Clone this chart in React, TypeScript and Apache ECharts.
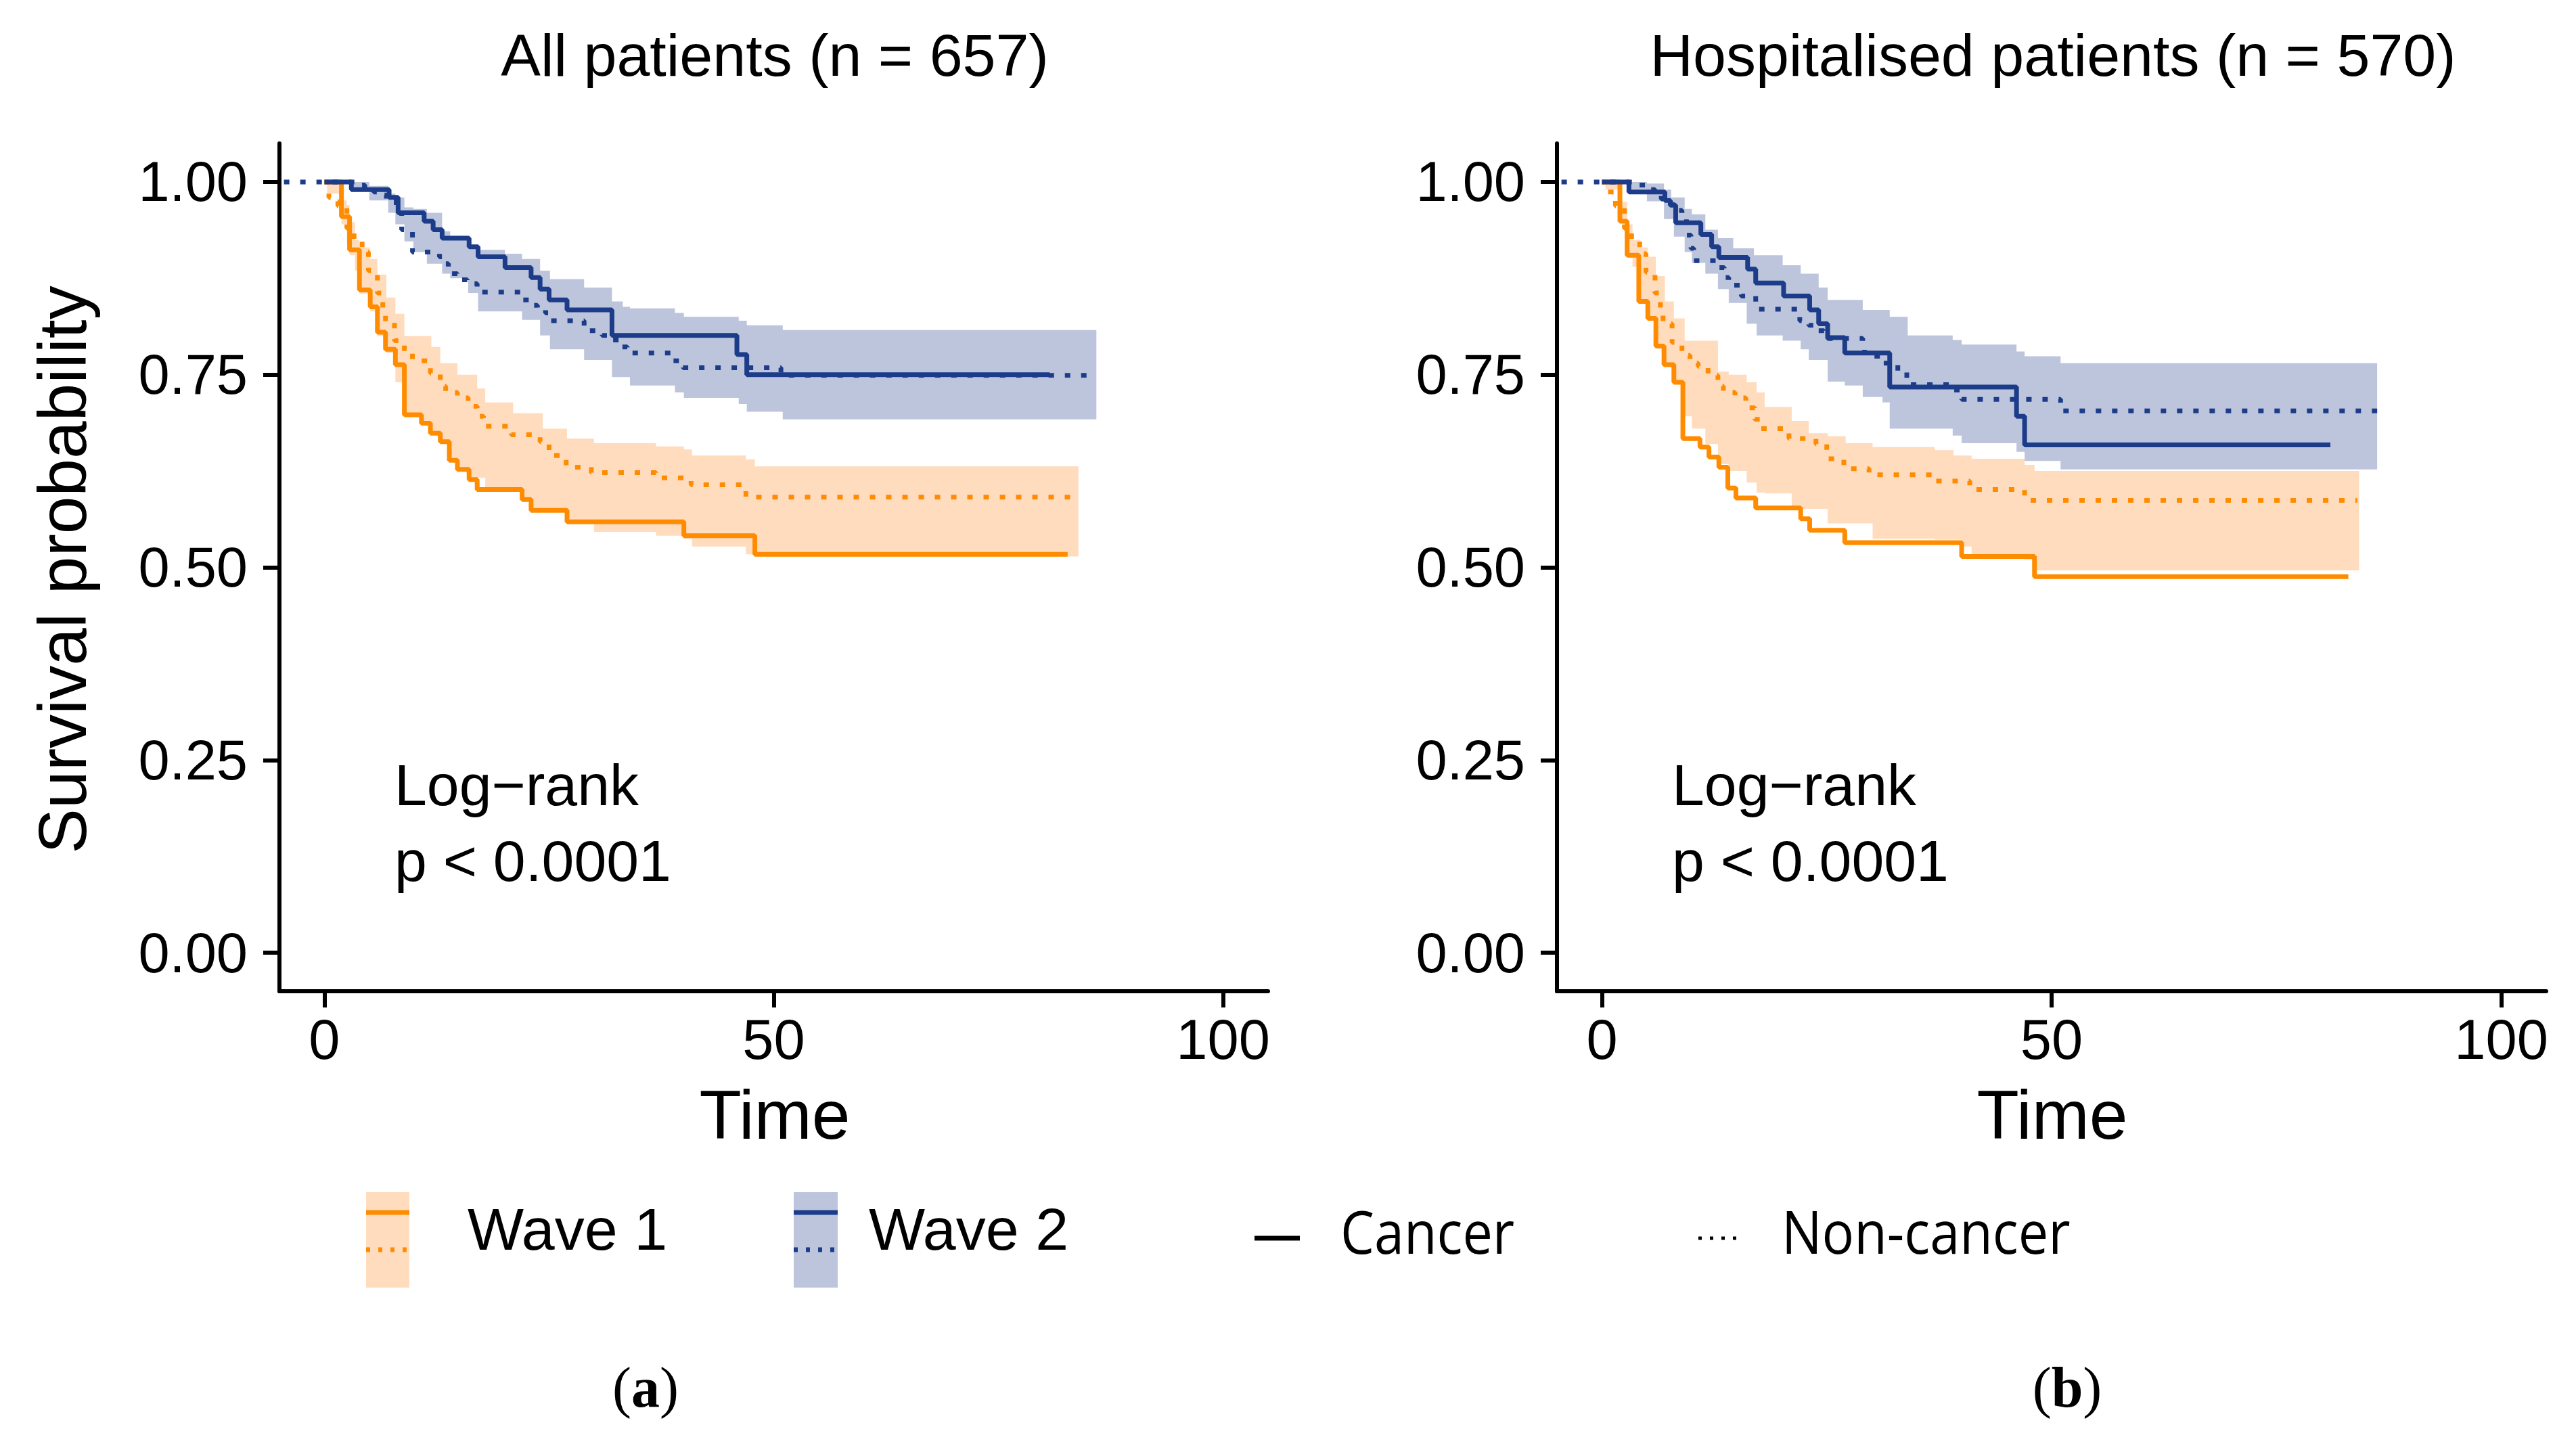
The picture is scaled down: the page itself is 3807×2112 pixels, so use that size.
import React, { useEffect, useRef } from "react";
import * as echarts from "echarts";

// ---------- data (time, survival) ----------
const xTicks = [0, 50, 100];
const yTicks = [0, 0.25, 0.5, 0.75, 1];
const panelTitles = ["All patients (n = 657)", "Hospitalised patients (n = 570)"];

// Panel (a): all patients
const aWave1Cancer: number[][] = [[0,1],[1.9,0.955],[2.8,0.912],[3.9,0.860],[5.1,0.838],[5.9,0.805],[6.8,0.783],[7.9,0.763],[8.9,0.698],[10.8,0.687],[11.8,0.674],[12.9,0.663],[13.9,0.639],[14.8,0.627],[16.1,0.614],[17.0,0.601],[22.0,0.588],[23.0,0.574],[27.0,0.559],[40.0,0.541],[47.9,0.517]];
const aWave1NonCancer: number[][] = [[0,1],[0.5,0.98],[1.0,0.975],[1.5,0.969],[2.5,0.94],[3.3,0.925],[4.2,0.909],[4.9,0.885],[5.9,0.856],[6.5,0.836],[6.8,0.818],[7.8,0.794],[8.9,0.780],[9.8,0.768],[11.8,0.752],[12.9,0.735],[13.5,0.727],[14.8,0.720],[16.0,0.709],[17.0,0.696],[17.7,0.683],[20.8,0.672],[24.0,0.663],[25.0,0.645],[26.9,0.630],[29.7,0.623],[36.9,0.616],[40.8,0.607],[46.9,0.591]];
const aWave2Cancer: number[][] = [[0,1],[3.0,0.990],[7.2,0.980],[8.2,0.960],[11.1,0.949],[12.1,0.938],[13.1,0.927],[16.1,0.916],[17.1,0.903],[20.1,0.889],[23.0,0.876],[24.0,0.861],[25.0,0.847],[27.0,0.834],[32.0,0.801],[45.9,0.776],[47.0,0.750]];
const aWave2NonCancer: number[][] = [[-4.5,1],[3.8,0.996],[4.5,0.992],[5.5,0.987],[6.2,0.983],[6.9,0.978],[7.5,0.974],[8.0,0.960],[8.6,0.938],[9.8,0.909],[12.8,0.903],[13.2,0.894],[13.8,0.889],[14.2,0.881],[14.8,0.877],[15.3,0.873],[15.9,0.868],[17.0,0.857],[21.8,0.847],[22.8,0.840],[23.7,0.835],[24.6,0.830],[25.0,0.820],[28.9,0.807],[30.9,0.801],[32.0,0.795],[32.9,0.786],[33.7,0.778],[38.8,0.768],[39.9,0.759],[50.8,0.749]];
const aEnds = [82.7, 83.8, 80.7, 85.9];
// confidence bands: [time, upper, lower]
const aWave1Band: number[][] = [[0.3,1.0,0.985],[1.9,0.976,0.945],[2.5,0.970,0.92],[2.8,0.948,0.905],[3.4,0.925,0.885],[3.9,0.915,0.855],[5.1,0.900,0.832],[5.9,0.880,0.800],[6.9,0.850,0.778],[7.9,0.829,0.740],[8.9,0.800,0.695],[10.8,0.800,0.685],[11.9,0.786,0.672],[12.9,0.765,0.660],[13.9,0.765,0.637],[14.8,0.750,0.625],[16.1,0.750,0.616],[17.0,0.732,0.616],[17.9,0.714,0.599],[21.0,0.700,0.599],[22.0,0.700,0.586],[23.0,0.700,0.572],[24.3,0.680,0.572],[27.0,0.667,0.557],[30.0,0.661,0.546],[36.9,0.657,0.541],[40.0,0.653,0.537],[40.9,0.645,0.527],[46.9,0.640,0.517],[47.9,0.631,0.514]];
const aWave2Band: number[][] = [[3.0,1.0,0.99],[5.0,0.995,0.976],[7.1,0.985,0.96],[7.9,0.98,0.945],[8.9,0.967,0.923],[9.9,0.965,0.909],[11.4,0.96,0.894],[13.1,0.936,0.881],[14.0,0.93,0.875],[16.0,0.918,0.856],[17.1,0.912,0.832],[20.1,0.907,0.832],[22.0,0.900,0.821],[24.0,0.885,0.801],[25.1,0.874,0.783],[28.9,0.863,0.769],[32.0,0.845,0.747],[33.2,0.838,0.747],[34.0,0.836,0.736],[39.0,0.830,0.727],[40.0,0.825,0.720],[46.1,0.820,0.712],[47.0,0.814,0.702],[51.0,0.808,0.692]];
const aBandEnds = [83.9, 85.9];

// Panel (b): hospitalised patients
const bWave1Cancer: number[][] = [[0,1],[2.0,0.949],[2.8,0.905],[4.1,0.845],[5.1,0.823],[6.0,0.787],[6.9,0.763],[8.0,0.740],[9.0,0.667],[10.9,0.656],[11.9,0.643],[13.0,0.630],[14.0,0.603],[14.9,0.590],[17.1,0.577],[22.1,0.563],[23.1,0.548],[27.0,0.532],[40.0,0.514],[48.1,0.488]];
const bWave1NonCancer: number[][] = [[0,1],[0.5,0.987],[1.5,0.969],[2.5,0.94],[3.3,0.925],[4.2,0.907],[4.9,0.883],[5.9,0.856],[6.5,0.836],[6.8,0.816],[7.8,0.792],[8.9,0.775],[9.8,0.765],[10.7,0.761],[11.8,0.749],[12.9,0.735],[13.5,0.727],[14.8,0.720],[16.0,0.707],[17.0,0.692],[17.7,0.680],[20.8,0.667],[23.8,0.660],[25.0,0.641],[26.9,0.628],[29.7,0.620],[36.9,0.612],[40.9,0.601],[47.0,0.587]];
const bWave2Cancer: number[][] = [[0,1],[3.0,0.987],[7.0,0.976],[7.6,0.970],[8.2,0.947],[11.0,0.932],[12.2,0.916],[13.0,0.902],[16.2,0.887],[17.1,0.869],[20.2,0.852],[23.1,0.834],[24.1,0.816],[25.1,0.798],[27.0,0.778],[32.0,0.734],[46.1,0.696],[47.0,0.659]];
const bWave2NonCancer: number[][] = [[-4.5,1],[3.8,0.996],[4.9,0.990],[5.9,0.983],[6.6,0.978],[7.2,0.971],[8.0,0.963],[8.9,0.956],[9.4,0.931],[9.9,0.914],[10.2,0.898],[12.9,0.889],[13.6,0.876],[14.1,0.866],[15.5,0.852],[17.1,0.835],[22.0,0.820],[23.0,0.814],[23.8,0.807],[24.7,0.801],[25.1,0.797],[29.0,0.787],[29.2,0.774],[31.0,0.765],[32.9,0.754],[33.9,0.737],[39.0,0.730],[40.0,0.718],[51.0,0.703]];
const bEnds = [83.0, 84.0, 81.0, 86.2];
const bWave1Band: number[][] = [[0.4,1.0,0.99],[2.0,0.974,0.949],[2.8,0.945,0.905],[3.4,0.925,0.89],[4.3,0.915,0.845],[5.1,0.903,0.823],[6.0,0.878,0.787],[7.0,0.845,0.763],[8.0,0.823,0.740],[9.2,0.794,0.696],[10.0,0.794,0.680],[11.5,0.794,0.66],[12.9,0.754,0.634],[14.1,0.750,0.625],[16.1,0.740,0.610],[17.2,0.727,0.597],[18.1,0.708,0.596],[21.1,0.690,0.576],[23.0,0.674,0.576],[25.1,0.670,0.557],[27.1,0.661,0.557],[30.1,0.656,0.537],[37.0,0.652,0.536],[39.1,0.645,0.536],[40.0,0.645,0.527],[41.1,0.641,0.517],[47.0,0.633,0.510],[48.1,0.625,0.496]];
const bWave2Band: number[][] = [[3.0,1.0,0.99],[5.0,0.998,0.975],[6.9,0.99,0.952],[7.7,0.98,0.952],[8.0,0.98,0.929],[9.2,0.965,0.909],[10.0,0.958,0.895],[11.5,0.938,0.881],[12.9,0.927,0.861],[14.1,0.927,0.843],[14.6,0.914,0.843],[16.1,0.914,0.816],[16.9,0.905,0.816],[17.2,0.905,0.801],[20.1,0.892,0.794],[22.1,0.881,0.783],[23.0,0.881,0.769],[24.1,0.863,0.769],[25.1,0.847,0.741],[27.0,0.847,0.736],[29.0,0.834,0.721],[31.2,0.834,0.714],[32.0,0.825,0.680],[34.0,0.801,0.680],[39.0,0.795,0.671],[40.0,0.789,0.661],[46.1,0.780,0.650],[47.0,0.774,0.638],[51.0,0.765,0.627]];
const bBandEnds = [84.2, 86.2];

const legendWaves = ["Wave 1", "Wave 2"];
const legendTypes = ["Cancer", "Non-cancer"];

// ---------- styling ----------
const ORANGE = "#FF8C00";
const ORANGE_FILL = "#FFDCBE";
const BLUE = "#1C3C8A";
const BLUE_FILL = "#BDC5DC";
const SANS = "'Liberation Sans', Arial, Helvetica, sans-serif";
const LEG = "'Open Sans', 'Noto Sans', sans-serif";
const SERIF = "'Liberation Serif', 'Times New Roman', serif";
const DOT: number[] = [8, 16];

const GRIDS = [
  { left: 413, top: 212, width: 1461, height: 1253 },
  { left: 2301, top: 212, width: 1462, height: 1253 },
];

function bandSeries(rows: number[][], end: number, fill: string, idx: number) {
  return {
    type: "custom",
    xAxisIndex: idx,
    yAxisIndex: idx,
    silent: true,
    z: 1,
    data: rows,
    encode: { x: 0, y: [1, 2] },
    renderItem: (params: any, api: any) => {
      if (params.dataIndex !== 0) return { type: "group", children: [] };
      const up: number[][] = [];
      const lo: number[][] = [];
      for (let i = 0; i < rows.length; i++) {
        const t0 = rows[i][0];
        const t1 = i + 1 < rows.length ? rows[i + 1][0] : end;
        up.push(api.coord([t0, rows[i][1]]), api.coord([t1, rows[i][1]]));
        lo.push(api.coord([t0, rows[i][2]]), api.coord([t1, rows[i][2]]));
      }
      return {
        type: "polygon",
        shape: { points: up.concat(lo.reverse()) },
        style: { fill, stroke: "none" },
      };
    },
  };
}

function lineSeries(pts: number[][], end: number, color: string, dotted: boolean, idx: number) {
  const last = pts[pts.length - 1][1];
  return {
    type: "line",
    xAxisIndex: idx,
    yAxisIndex: idx,
    step: "end",
    symbol: "none",
    silent: true,
    z: 3,
    data: [...pts, [end, last]],
    lineStyle: { color, width: 7, type: dotted ? DOT : "solid", cap: "butt" },
  };
}

function txt(text: string, x: number, y: number, fontSize: number, opts: any = {}) {
  return {
    type: "text",
    x,
    y,
    rotation: opts.rotation || 0,
    scaleX: opts.scaleX || 1,
    silent: true,
    style: {
      text,
      fontSize,
      fontFamily: opts.font || SANS,
      fontWeight: "normal",
      fill: "#000",
      textAlign: opts.align || "left",
      align: opts.align || "left",
      textVerticalAlign: "middle",
      verticalAlign: "middle",
      rich: opts.rich,
    },
  };
}

const panelRich = {
  r: { fontFamily: SERIF, fontSize: 84, fontWeight: "normal", fill: "#000" },
  b: { fontFamily: SERIF, fontSize: 84, fontWeight: "bold", fill: "#000" },
};

export default function App() {
  const ref = useRef<HTMLDivElement>(null);

  useEffect(() => {
    document.body.style.margin = "0";
    if (!ref.current) return;
    const chart = echarts.init(ref.current, undefined, { renderer: "svg" });

    const xAxes = GRIDS.map((_, i) => ({
      type: "value",
      gridIndex: i,
      min: -5,
      max: 105,
      splitLine: { show: false },
      axisLine: { show: true, onZero: false, lineStyle: { color: "#000", width: 6 } },
      axisTick: { show: true, length: 24, customValues: xTicks, lineStyle: { color: "#000", width: 6 } },
      axisLabel: { customValues: xTicks, fontSize: 83, fontFamily: SANS, color: "#000", margin: 30 },
    }));
    const yAxes = GRIDS.map((_, i) => ({
      type: "value",
      gridIndex: i,
      min: -0.05,
      max: 1.05,
      splitLine: { show: false },
      axisLine: { show: true, onZero: false, lineStyle: { color: "#000", width: 6 } },
      axisTick: { show: true, length: 24, customValues: yTicks, lineStyle: { color: "#000", width: 6 } },
      axisLabel: {
        customValues: yTicks,
        fontSize: 83,
        fontFamily: SANS,
        color: "#000",
        margin: 47,
        formatter: (v: number) => v.toFixed(2),
      },
    }));

    const series: any[] = [
      bandSeries(aWave1Band, aBandEnds[0], ORANGE_FILL, 0),
      bandSeries(aWave2Band, aBandEnds[1], BLUE_FILL, 0),
      lineSeries(aWave1Cancer, aEnds[0], ORANGE, false, 0),
      lineSeries(aWave1NonCancer, aEnds[1], ORANGE, true, 0),
      lineSeries(aWave2Cancer, aEnds[2], BLUE, false, 0),
      lineSeries(aWave2NonCancer, aEnds[3], BLUE, true, 0),
      bandSeries(bWave1Band, bBandEnds[0], ORANGE_FILL, 1),
      bandSeries(bWave2Band, bBandEnds[1], BLUE_FILL, 1),
      lineSeries(bWave1Cancer, bEnds[0], ORANGE, false, 1),
      lineSeries(bWave1NonCancer, bEnds[1], ORANGE, true, 1),
      lineSeries(bWave2Cancer, bEnds[2], BLUE, false, 1),
      lineSeries(bWave2NonCancer, bEnds[3], BLUE, true, 1),
    ];

    const graphics: any[] = [
      txt(panelTitles[0], 1145, 81, 88, { align: "center" }),
      txt(panelTitles[1], 3034, 81, 88, { align: "center" }),
      txt("Survival probability", 92, 842, 100, { align: "center", rotation: Math.PI / 2 }),
      txt("Time", 1145, 1648, 102, { align: "center" }),
      txt("Time", 3033, 1648, 102, { align: "center" }),
      txt("Log\u2212rank", 583, 1160, 86),
      txt("p < 0.0001", 583, 1272, 86),
      txt("Log\u2212rank", 2471, 1160, 86),
      txt("p < 0.0001", 2471, 1272, 86),
      // legend keys
      { type: "rect", silent: true, shape: { x: 541, y: 1762, width: 64, height: 141 }, style: { fill: ORANGE_FILL } },
      { type: "line", silent: true, shape: { x1: 541, y1: 1792, x2: 605, y2: 1792 }, style: { stroke: ORANGE, lineWidth: 7 } },
      { type: "line", silent: true, shape: { x1: 541, y1: 1847, x2: 605, y2: 1847 }, style: { stroke: ORANGE, lineWidth: 7, lineDash: [6, 12] } },
      { type: "rect", silent: true, shape: { x: 1173, y: 1762, width: 65, height: 141 }, style: { fill: BLUE_FILL } },
      { type: "line", silent: true, shape: { x1: 1173, y1: 1792, x2: 1238, y2: 1792 }, style: { stroke: BLUE, lineWidth: 7 } },
      { type: "line", silent: true, shape: { x1: 1173, y1: 1847, x2: 1238, y2: 1847 }, style: { stroke: BLUE, lineWidth: 7, lineDash: [6, 12] } },
      { type: "line", silent: true, shape: { x1: 1854, y1: 1830, x2: 1921, y2: 1830 }, style: { stroke: "#000", lineWidth: 7 } },
      { type: "line", silent: true, shape: { x1: 2510, y1: 1830, x2: 2577, y2: 1830 }, style: { stroke: "#000", lineWidth: 5, lineDash: [5, 12] } },
      txt(legendWaves[0], 691, 1816, 88),
      txt(legendWaves[1], 1284, 1816, 88),
      txt(legendTypes[0], 1981, 1819, 88, { font: LEG, scaleX: 0.9 }),
      txt(legendTypes[1], 2633, 1819, 88, { font: LEG, scaleX: 0.9 }),
      // panel labels
      txt("{r|(}{b|a}{r|)}", 954, 2050, 84, { align: "center", font: SERIF, rich: panelRich }),
      txt("{r|(}{b|b}{r|)}", 3055, 2050, 84, { align: "center", font: SERIF, rich: panelRich }),
    ];

    chart.setOption({
      animation: false,
      backgroundColor: "#fff",
      grid: GRIDS,
      xAxis: xAxes,
      yAxis: yAxes,
      series,
      graphic: graphics,
    });

    return () => chart.dispose();
  }, []);

  return <div ref={ref} style={{ width: 3807, height: 2112 }} />;
}
